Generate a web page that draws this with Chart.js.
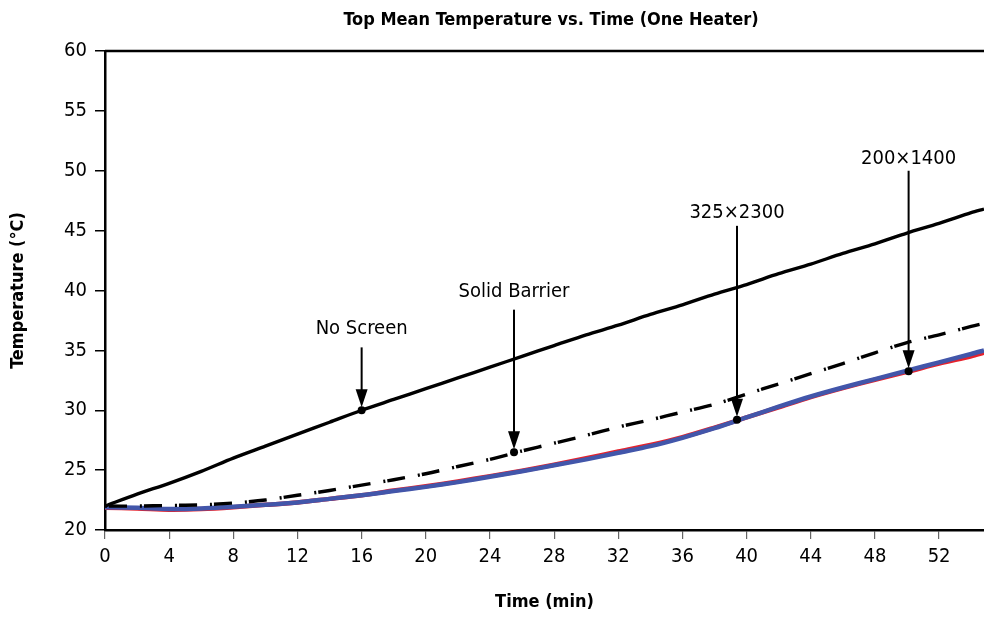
<!DOCTYPE html>
<html>
<head>
<meta charset="utf-8">
<script src="https://cdn.jsdelivr.net/npm/chart.js@4.4.1/dist/chart.umd.min.js"></script>
<style>
  html, body { margin: 0; padding: 0; background: #fff; }
  #wrap { width: 984px; height: 619px; }
</style>
</head>
<body>
<div id="wrap"><canvas id="chart"></canvas></div>
<script>
// time axis (min)
const times = [0, 2, 4, 6, 8, 10, 12, 14, 16, 18, 20, 22, 24, 26, 28, 30, 32, 34, 36, 38, 40, 42, 44, 46, 48, 50, 52, 54, 54.8];
// temperatures (°C)
const noScreen = [22.0, 23.0, 23.9, 24.9, 26.0, 27.0, 28.0, 29.0, 30.0, 30.9, 31.8, 32.7, 33.6, 34.5, 35.4, 36.3, 37.1, 38.0, 38.8, 39.7, 40.5, 41.4, 42.2, 43.1, 43.9, 44.8, 45.6, 46.5, 46.8];
const solidBarrier = [22.0, 22.0, 22.05, 22.1, 22.25, 22.5, 22.9, 23.3, 23.75, 24.2, 24.7, 25.3, 25.9, 26.6, 27.25, 27.9, 28.6, 29.2, 29.85, 30.5, 31.35, 32.2, 33.05, 33.9, 34.8, 35.65, 36.3, 37.0, 37.25];
const screen325 = [21.85, 21.8, 21.7, 21.75, 21.9, 22.1, 22.3, 22.6, 22.9, 23.3, 23.65, 24.05, 24.5, 24.95, 25.45, 26.0, 26.55, 27.1, 27.75, 28.55, 29.4, 30.25, 31.1, 31.85, 32.55, 33.2, 33.9, 34.5, 34.8];
const screen200 = [21.9, 21.85, 21.75, 21.8, 21.95, 22.1, 22.3, 22.6, 22.9, 23.25, 23.6, 24.0, 24.45, 24.9, 25.4, 25.9, 26.45, 27.0, 27.7, 28.5, 29.4, 30.3, 31.15, 31.9, 32.6, 33.3, 34.0, 34.7, 35.0];

const xTicks = [0, 4, 8, 12, 16, 20, 24, 28, 32, 36, 40, 44, 48, 52];
const yTicks = [20, 25, 30, 35, 40, 45, 50, 55, 60];

// callouts: label, time, dot value, arrow top value, label value
const calloutLabels = ['No Screen', 'Solid Barrier', '325\u00d72300', '200\u00d71400'];
const calloutTimes = [16, 25.5, 39.4, 50.1];
const calloutDots = [30.0, 26.5, 29.2, 33.25];
const calloutTops = [35.25, 38.4, 45.4, 50.0];
const calloutText = [36.8, 39.9, 46.5, 51.0];

const chartTitle = 'Top Mean Temperature vs. Time (One Heater)';
const FONT = "'DejaVu Sans Condensed', 'Liberation Sans', sans-serif";

function pts(vals) {
    return times.map((t, i) => ({ x: t, y: vals[i] }));
}

const callouts = {
    id: 'callouts',
    afterDatasetsDraw(chart) {
        const ctx = chart.ctx;
        const xs = chart.scales.x, ys = chart.scales.y;
        const area = chart.chartArea;
        ctx.save();
        // top frame line
        ctx.strokeStyle = '#000';
        ctx.lineWidth = 2.5;
        ctx.beginPath();
        ctx.moveTo(area.left, area.top);
        ctx.lineTo(area.right, area.top);
        ctx.stroke();

        // title
        ctx.fillStyle = '#000';
        ctx.font = 'bold 18px ' + FONT;
        ctx.textAlign = 'center';
        ctx.textBaseline = 'middle';
        ctx.fillText(chartTitle, 551, 20);

        calloutLabels.forEach((lab, i) => {
            const px = xs.getPixelForValue(calloutTimes[i]);
            const dotY = ys.getPixelForValue(calloutDots[i]);
            const topY = ys.getPixelForValue(calloutTops[i]);
            const txtY = ys.getPixelForValue(calloutText[i]);
            const tipY = dotY - 3;
            ctx.strokeStyle = '#000';
            ctx.fillStyle = '#000';
            ctx.lineWidth = 2;
            ctx.beginPath();
            ctx.moveTo(px, topY);
            ctx.lineTo(px, tipY - 15);
            ctx.stroke();
            ctx.beginPath();
            ctx.moveTo(px - 6, tipY - 18);
            ctx.lineTo(px + 6, tipY - 18);
            ctx.lineTo(px, tipY);
            ctx.closePath();
            ctx.fill();
            ctx.beginPath();
            ctx.arc(px, dotY, 4, 0, Math.PI * 2);
            ctx.fill();
            ctx.font = '20px ' + FONT;
            ctx.fillText(lab, px, txtY);
        });
        ctx.restore();
    }
};

new Chart(document.getElementById('chart'), {
    type: 'line',
    data: {
        datasets: [
            { data: pts(noScreen), borderColor: '#000', borderWidth: 3.4 },
            { data: pts(solidBarrier), borderColor: '#000', borderWidth: 3.4, borderDash: [2, 2, 18, 13] },
            { data: pts(screen200), borderColor: '#4256aa', borderWidth: 4.5 },
            { data: pts(screen325), borderColor: '#e6222c', borderWidth: 4.5 }
        ]
    },
    options: {
        responsive: true,
        maintainAspectRatio: false,
        animation: false,
        layout: { padding: { top: 51 } },
        elements: { point: { radius: 0 }, line: { tension: 0.3 } },
        plugins: {
            legend: { display: false },
            tooltip: { enabled: false },
            title: { display: false }
        },
        scales: {
            x: {
                type: 'linear',
                min: 0,
                max: 54.8,
                afterBuildTicks: (s) => { s.ticks = xTicks.map(v => ({ value: v })); },
                afterFit: (s) => { s.height = 89; },
                border: { display: true, color: '#000', width: 2.5 },
                grid: { drawOnChartArea: false, drawTicks: true, tickLength: 9, color: '#666', lineWidth: 1.2 },
                ticks: { color: '#000', padding: 6, font: { family: FONT, size: 20 } },
                title: {
                    display: true,
                    text: 'Time (min)',
                    color: '#000',
                    font: { family: FONT, size: 18, weight: 'bold' },
                    padding: { top: 0, bottom: 6 }
                }
            },
            y: {
                min: 20,
                max: 60,
                afterBuildTicks: (s) => { s.ticks = yTicks.map(v => ({ value: v })); },
                afterFit: (s) => { s.width = 105; },
                border: { display: true, color: '#000', width: 2.5 },
                grid: { drawOnChartArea: false, drawTicks: true, tickLength: 10, color: '#000', lineWidth: 1.5 },
                ticks: { color: '#000', padding: 8, font: { family: FONT, size: 20 } },
                title: {
                    display: true,
                    text: 'Temperature (\u00b0C)',
                    color: '#000',
                    font: { family: FONT, size: 18, weight: 'bold' },
                    padding: { top: 8, bottom: 0 }
                }
            }
        }
    },
    plugins: [callouts]
});
</script>
</body>
</html>
